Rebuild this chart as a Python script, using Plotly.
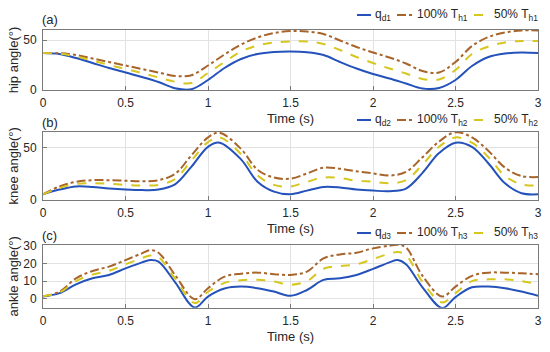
import plotly.graph_objects as go

# ---------------- data ----------------
t_hip = [0.0, 0.1, 0.2, 0.3, 0.4, 0.5, 0.6, 0.7, 0.8, 0.9, 1.0, 1.1, 1.2, 1.3, 1.4, 1.5,
         1.6, 1.7, 1.8, 1.9, 2.0, 2.1, 2.2, 2.3, 2.4, 2.5, 2.6, 2.7, 2.8, 2.9, 3.0]
hip_qd = [37, 36, 32, 27, 22, 17.5, 13, 8, 1.8, 0.8, 10, 22, 31, 36, 38, 38.5,
          37.8, 35, 28, 21.5, 16, 11.5, 6.5, 1.5, 2, 10, 24, 33, 36.5, 37.5, 37]
hip_100 = [37, 36.8, 35, 31.5, 28, 24.5, 21, 17.5, 14, 14.8, 24.5, 35.5, 45.5, 52.5, 57, 59,
           58.5, 56, 49.5, 43, 37.5, 32.5, 26.5, 19, 17.5, 28, 44, 53, 57.5, 59.5, 59.5]
hip_50 = [37, 36.3, 33.5, 29.5, 25, 21, 17, 12.5, 8.3, 7, 17, 28, 38.5, 44.5, 47.5, 48.5,
          48.5, 46, 40, 33, 27, 21.5, 16.5, 11, 10.5, 20, 36, 43.5, 47.5, 49, 49]

t_knee = [0.0, 0.1, 0.2, 0.3, 0.4, 0.5, 0.6, 0.7, 0.8, 0.9, 1.0, 1.07, 1.2, 1.3, 1.4, 1.5,
          1.6, 1.7, 1.8, 1.9, 2.0, 2.1, 2.2, 2.3, 2.4, 2.5, 2.6, 2.7, 2.8, 2.9, 3.0]
knee_qd = [5.5, 10, 13, 12.5, 11, 10, 9.5, 10, 15, 32, 51, 55, 39, 17.5, 8, 5.5,
           9, 12.5, 12, 10, 9, 8.5, 11, 26, 45, 55, 51, 35, 16, 6.5, 5.5]
knee_100 = [5.5, 13, 17.5, 19, 19, 18.5, 18, 19, 25, 43, 60, 64.5, 49, 29, 21.5, 20.5,
            25.5, 31, 30, 27.5, 25.5, 23.5, 27, 41, 56, 65, 60, 47, 31, 23, 22]
knee_50 = [5.5, 11.5, 15.5, 16, 15.5, 14.5, 14, 14.5, 20, 38, 55.5, 60, 44, 23.5, 14.5, 13,
           17.5, 21.5, 21, 18.5, 17.5, 16, 19, 34, 51, 60, 55, 41, 23, 15, 14]

t_ankle = [0.0, 0.1, 0.2, 0.3, 0.4, 0.5, 0.6, 0.65, 0.7, 0.8, 0.92, 1.0, 1.1, 1.2, 1.3, 1.4,
           1.5, 1.6, 1.7, 1.8, 1.9, 2.0, 2.1, 2.15, 2.2, 2.3, 2.42, 2.5, 2.6, 2.7, 2.8, 2.9, 3.0]
ankle_qd = [1.3, 3.2, 8.2, 11.6, 13.5, 17.2, 20.6, 21.9, 21, 9.5, -4.9, 1.3, 5.8, 6.9, 6, 4.1,
            1.7, 5, 10.7, 11.6, 13.5, 16.9, 20.6, 21.9, 19.5, 6.5, -5.2, 1, 6.5, 6.9, 6, 4.1, 1.7]
ankle_100 = [1.5, 4, 11.6, 15.7, 18.2, 21.9, 25.7, 27.5, 26, 13.5, -0.2, 6, 12.5, 14.2, 14.8, 13.9,
             13.5, 15.4, 22.8, 25.1, 26, 28.5, 30, 30.5, 29, 13, 1.3, 6.9, 13, 14.8, 14.8, 14.4, 13.9]
ankle_50 = [1.5, 3.5, 10, 13.7, 15.8, 19.5, 23, 24.5, 23.5, 11.5, -2.4, 4, 9, 10.5, 10.8, 9.8,
            8, 10, 17, 18.5, 19.5, 22.5, 25.5, 26.5, 24.7, 9.5, -2, 3.2, 10, 11, 11, 10, 8.3]

x_ticks = [0, 0.5, 1, 1.5, 2, 2.5, 3]
x_ticktext = ["0", "0.5", "1", "1.5", "2", "2.5", "3"]

panels = [
    dict(t=t_hip, series=[hip_qd, hip_100, hip_50], sub="1", qsub="d1",
         ylabel="hip angle(°)", yrange=[0, 60], yticks=[0, 50], tag="(a)"),
    dict(t=t_knee, series=[knee_qd, knee_100, knee_50], sub="2", qsub="d2",
         ylabel="knee angle(°)", yrange=[0, 65.5], yticks=[0, 50], tag="(b)"),
    dict(t=t_ankle, series=[ankle_qd, ankle_100, ankle_50], sub="3", qsub="d3",
         ylabel="ankle angle(°)", yrange=[-5, 30.4], yticks=[0, 10, 20, 30], tag="(c)"),
]

# ---------------- layout geometry ----------------
W, H = 550, 352
x0, x1 = 43, 538
boxes = [(30, 90), (131.7, 200), (245, 307.7)]
legend_y = [15, 120, 233]
tag_y = [20, 122.5, 235.5]
# legend sample (start, end) and text start, in px
leg_samples = [(357, 371), (397, 412), (474, 489)]
leg_text_x = [373, 415, 492]

FONT = "Arial, Liberation Sans, sans-serif"
colors = ["#2452BA", "#A8642A", "#D6C61E"]
dashes = ["solid", "dashdot", "dash"]

fig = go.Figure()
layout = dict(
    width=W, height=H, margin=dict(l=0, r=0, t=0, b=0, autoexpand=False),
    paper_bgcolor="white", plot_bgcolor="white", showlegend=False,
    font=dict(family=FONT, size=12, color="#262626"),
    annotations=[], shapes=[],
)

for i, p in enumerate(panels):
    k = "" if i == 0 else str(i + 1)
    names = [f"q<sub>{p['qsub']}</sub>", f"100% T<sub>h{p['sub']}</sub>",
             f"50% T<sub>h{p['sub']}</sub>"]
    for j, (s, name, c, d) in enumerate(zip(p["series"], names, colors, dashes)):
        fig.add_trace(go.Scatter(
            x=p["t"], y=s, mode="lines", name=name,
            line=dict(color=c, width=2, dash=d, shape="spline", smoothing=1.0),
            xaxis="x" + k, yaxis="y" + k, cliponaxis=True,
        ))
        # manual legend entry
        ly = 1 - legend_y[i] / H
        xs, xe = leg_samples[j]
        layout["shapes"].append(dict(
            type="line", xref="paper", yref="paper", x0=xs / W, x1=xe / W, y0=ly, y1=ly,
            line=dict(color=c, width=2, dash=d),
        ))
        layout["annotations"].append(dict(
            text=name, xref="paper", yref="paper", x=leg_text_x[j] / W, y=ly,
            xanchor="left", yanchor="middle", showarrow=False, font=dict(size=12),
        ))
    top, bot = boxes[i]
    layout["xaxis" + k] = dict(
        domain=[x0 / W, x1 / W], anchor="y" + k, range=[0, 3],
        tickvals=x_ticks, ticktext=x_ticktext, ticks="inside", ticklen=4,
        tickcolor="#7a7a7a", showline=True, linecolor="#7a7a7a", linewidth=1,
        mirror=True, showgrid=True, gridcolor="#e2e2e2", zeroline=False,
        tickfont=dict(size=12), ticklabelstandoff=2, automargin=False,
        title=dict(text="Time (s)", font=dict(size=13), standoff=4),
    )
    layout["yaxis" + k] = dict(
        domain=[1 - bot / H, 1 - top / H], anchor="x" + k, range=p["yrange"],
        tickvals=p["yticks"], ticks="inside", ticklen=4, tickcolor="#7a7a7a",
        showline=True, linecolor="#7a7a7a", linewidth=1, mirror=True,
        showgrid=True, gridcolor="#e2e2e2", zeroline=False,
        tickfont=dict(size=12), ticklabelstandoff=3, automargin=False,
        title=dict(text=p["ylabel"], font=dict(size=13), standoff=1),
    )
    layout["annotations"].append(dict(
        text=p["tag"], xref="paper", yref="paper", x=40 / W, y=1 - tag_y[i] / H,
        xanchor="left", yanchor="middle", showarrow=False, font=dict(size=13),
    ))

fig.update_layout(**layout)
fig.write_html("out.html", config={"displayModeBar": False},
               post_script="document.body.style.margin='0px';")
